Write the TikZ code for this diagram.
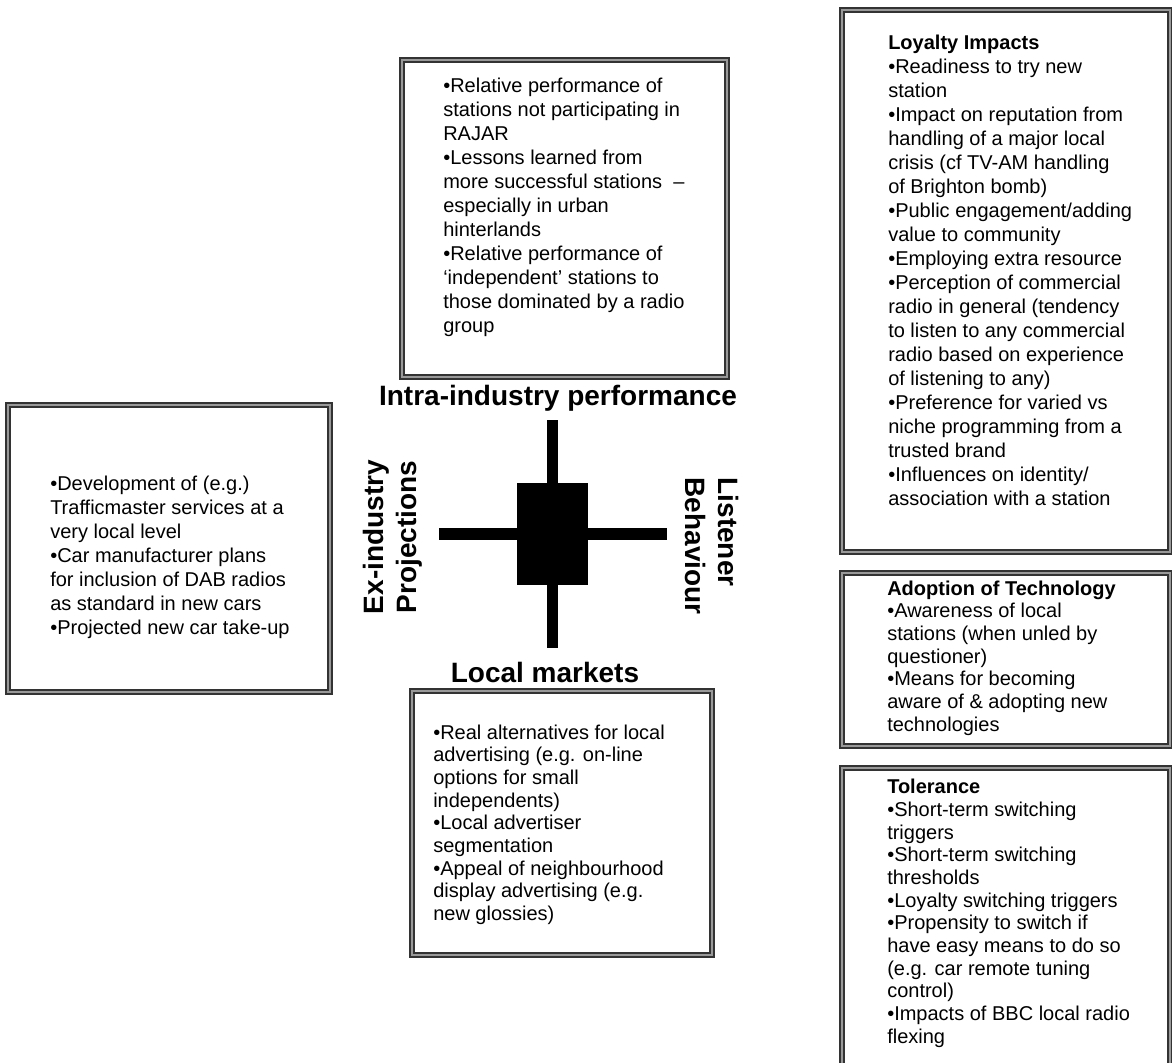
\documentclass[tikz,border=0pt]{standalone}
\usepackage{fontspec}
\setmainfont{Liberation Sans}
\tikzset{
	panel/.style={draw=black!80, double=black!40, double distance=2.2pt, line width=0.8pt},
	body/.style={anchor=north west, inner sep=0pt, align=left, font=\fontsize{15}{#1}\selectfont},
	body/.default=17pt,
	axislabel/.style={inner sep=0pt, align=center, font=\bfseries\fontsize{21}{25}\selectfont}
}
\begin{document}
\begin{tikzpicture}[x=0.75pt, y=-0.75pt]
	\useasboundingbox (0,0) rectangle (1172,1063);
	\clip (0,0) rectangle (1172,1063);
	\draw[panel] (402,60) rectangle (727,377);
	\draw[panel] (842,10) rectangle (1170,552);
	\draw[panel] (842,573) rectangle (1170,746);
	\draw[panel] (842,768) rectangle (1170,1090);
	\draw[panel] (8,405) rectangle (330,692);
	\draw[panel] (412,691) rectangle (712,955);
	\fill[black] (517,483) rectangle (588,585);
	\draw[black, line width=8.7pt] (552.5,420) -- (552.5,648);
	\draw[black, line width=8.7pt] (439,534) -- (667,534);
	\node[axislabel] (intra) at (558,398) {Intra-industry performance};
	\node[axislabel] (local) at (545,672) {Local markets};
	\node[axislabel, rotate=90] (exind) at (393,537) {Ex-industry\\Projections};
	\node[axislabel, rotate=-90, align=left] (listener) at (712,546) {Listener\\Behaviour};
	\node[body=18pt] (intratext) at (443,77.5) {%
		•Relative performance of\\
		stations not participating in\\
		RAJAR\\
		•Lessons learned from\\
		more successful stations \ –\\
		especially in urban\\
		hinterlands\\
		•Relative performance of\\
		`independent' stations to\\
		those dominated by a radio\\
		group};
	\node[body=18pt] (loyalty) at (888,35) {%
		\textbf{Loyalty Impacts}\\
		•Readiness to try new\\
		station\\
		•Impact on reputation from\\
		handling of a major local\\
		crisis (cf TV-AM handling\\
		of Brighton bomb)\\
		•Public engagement/adding\\
		value to community\\
		•Employing extra resource\\
		•Perception of commercial\\
		radio in general (tendency\\
		to listen to any commercial\\
		radio based on experience\\
		of listening to any)\\
		•Preference for varied vs\\
		niche programming from a\\
		trusted brand\\
		•Influences on identity/\\
		association with a station};
	\node[body] (adoption) at (887,580.5) {%
		\textbf{Adoption of Technology}\\
		•Awareness of local\\
		stations (when unled by\\
		questioner)\\
		•Means for becoming\\
		aware of \& adopting new\\
		technologies};
	\node[body] (tolerance) at (887,779) {%
		\textbf{Tolerance}\\
		•Short-term switching\\
		triggers\\
		•Short-term switching\\
		thresholds\\
		•Loyalty switching triggers\\
		•Propensity to switch if\\
		have easy means to do so\\
		(e.g. car remote tuning\\
		control)\\
		•Impacts of BBC local radio\\
		flexing};
	\node[body=18pt] (exindtext) at (50,475.5) {%
		•Development of (e.g.)\\
		Trafficmaster services at a\\
		very local level\\
		•Car manufacturer plans\\
		for inclusion of DAB radios\\
		as standard in new cars\\
		•Projected new car take-up};
	\node[body] (localtext) at (433,724.5) {%
		•Real alternatives for local\\
		advertising (e.g. on-line\\
		options for small\\
		independents)\\
		•Local advertiser\\
		segmentation\\
		•Appeal of neighbourhood\\
		display advertising (e.g.\\
		new glossies)};
\end{tikzpicture}
\end{document}
